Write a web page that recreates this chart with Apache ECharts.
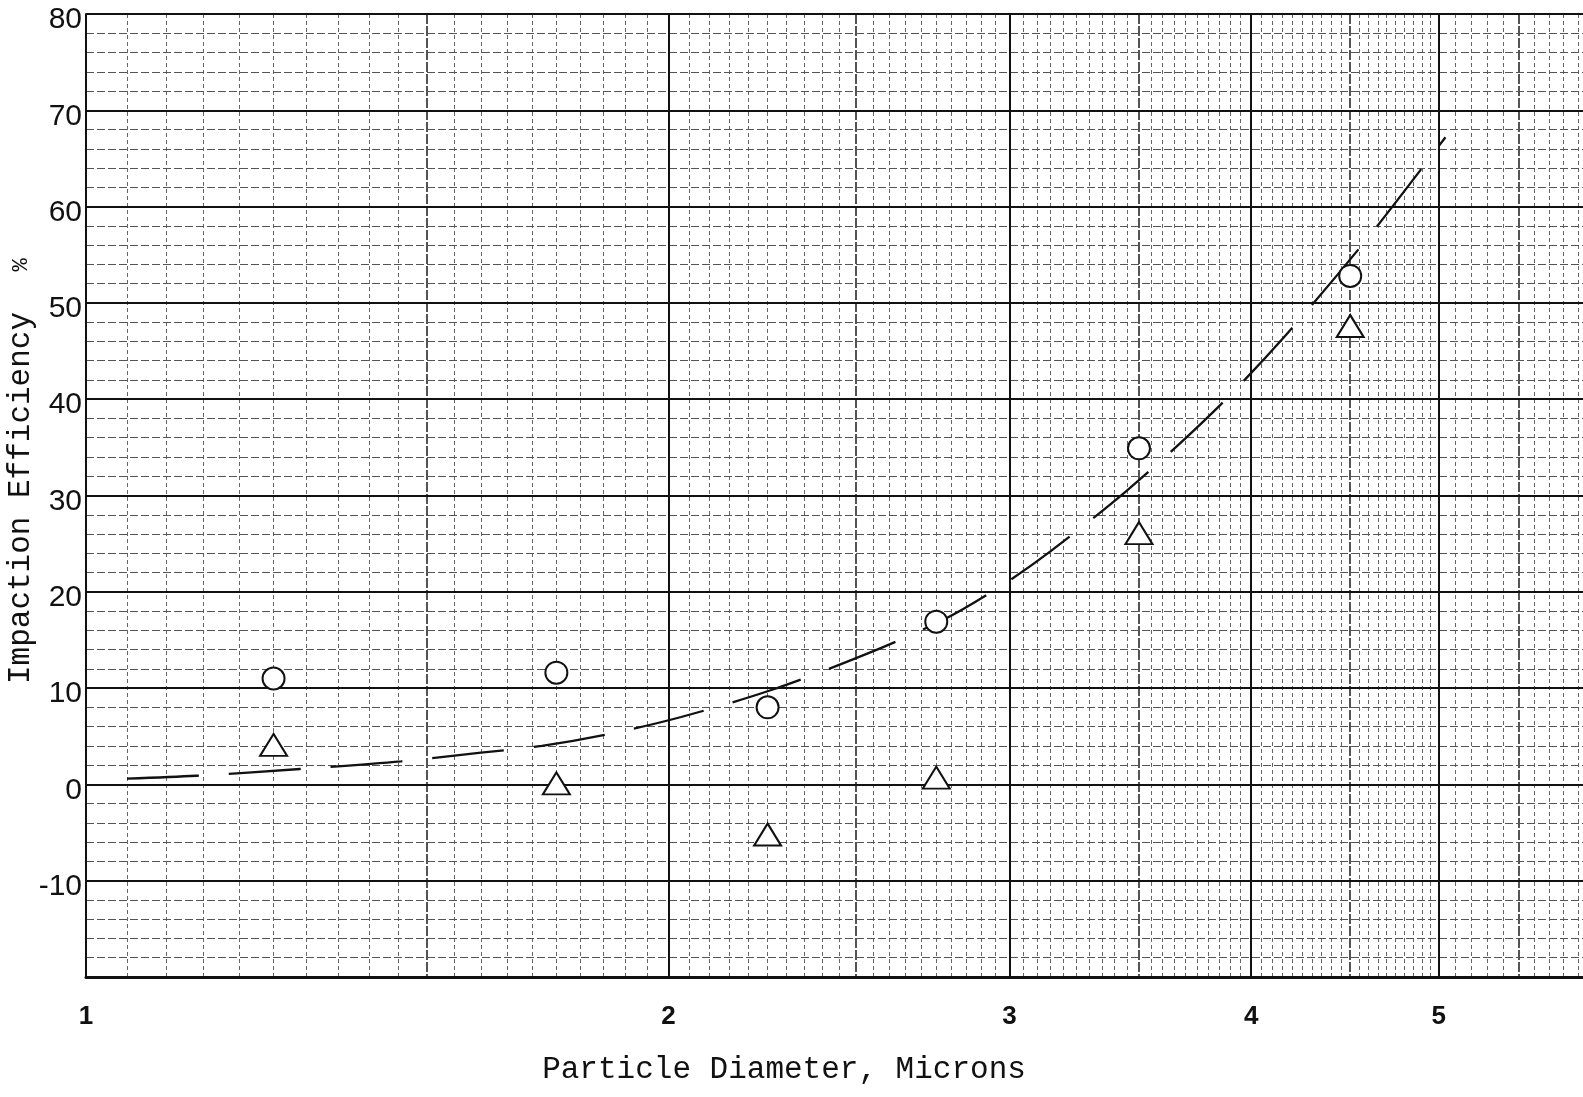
<!DOCTYPE html>
<html>
<head>
<meta charset="utf-8">
<title>Impaction Efficiency vs Particle Diameter</title>
<script src="https://cdn.jsdelivr.net/npm/echarts@6/dist/echarts.min.js"></script>
<style>
  html, body { margin: 0; padding: 0; background: #ffffff; }
  #chart { width: 1583px; height: 1097px; }
</style>
</head>
<body>
<div id="chart"></div>
<script>
// Measured points: particle diameter (microns) and impaction efficiency (%)
const diameters = [1.25, 1.75, 2.25, 2.75, 3.5, 4.5];
const circleEff = [11.0, 11.6, 8.0, 16.9, 34.9, 52.8];
const triangleEff = [4.1, 0.1, -5.2, 0.7, 26.1, 47.6];

// Hand-drawn fitted curve (dashed)
const curveDiam = [1.05, 1.14, 1.29, 1.455, 1.6, 1.72, 1.86, 2.03, 2.26, 2.535, 2.78, 2.97, 3.15, 3.45, 3.82, 4.17, 4.61, 5.04];
const curveEff  = [0.6, 0.9, 1.6, 2.4, 3.3, 4.0, 5.2, 7.0, 9.8, 13.6, 17.2, 20.6, 24.2, 30.5, 38.6, 46.7, 57.1, 67.2];

// Tick labels
const xTickLabels = [1, 2, 3, 4, 5];
const yTickLabels = [-10, 0, 10, 20, 30, 40, 50, 60, 70, 80];

// Semi-log graph paper rulings
const xMajorLines = [2, 3, 4, 5];
const xHalfLines = [1.5, 2.5, 3.5, 4.5, 5.5];
const xFineLines = [];
for (let i = 21; i < 100; i++) {          // 1.05 .. 4.95 every 0.05
  const v = i * 0.05;
  if (i % 10 !== 0) xFineLines.push(Math.round(v * 100) / 100);
}
for (let i = 51; i < 60; i++) {           // 5.1 .. 5.9 every 0.1
  if (i !== 55) xFineLines.push(Math.round(i * 10) / 100);
}

const ink = '#111111';
const monoFont = '"Liberation Mono", "DejaVu Sans Mono", monospace';
const sansFont = '"Liberation Sans", Arial, sans-serif';

function zip(a, b) { return a.map((v, i) => [v, b[i]]); }

function rulingAxis(values, lineStyle, z) {
  return {
    type: 'log', logBase: 10, min: 1, max: 6, gridIndex: 0, z: z,
    axisLine: { show: false },
    axisTick: { show: false, customValues: values },
    axisLabel: { show: false },
    splitLine: { show: true, lineStyle: lineStyle }
  };
}

const chart = echarts.init(document.getElementById('chart'), null, { renderer: 'canvas' });

chart.setOption({
  backgroundColor: '#ffffff',
  animation: false,
  grid: { left: 86, top: 14, right: -9, bottom: 120, outerBoundsMode: 'none' },
  xAxis: [
    {
      type: 'log', logBase: 10, min: 1, max: 6, z: 3,
      axisLine: { show: true, onZero: false, lineStyle: { color: ink, width: 3 } },
      axisTick: { show: false, customValues: xMajorLines },
      axisLabel: {
        customValues: xTickLabels, margin: 27,
        color: ink, fontFamily: sansFont, fontSize: 26, fontWeight: 'bold',
        formatter: v => String(Math.round(v))
      },
      splitLine: { show: true, lineStyle: { color: ink, width: 2 } }
    },
    rulingAxis(xHalfLines, { color: '#2a2a2a', width: 1.6, type: [10, 2] }, 2),
    rulingAxis(xFineLines, { color: '#666666', width: 1, type: [4, 3] }, 1)
  ],
  yAxis: [
    {
      type: 'value', min: -20, max: 80, interval: 10, z: 3,
      axisLine: { show: true, onZero: false, lineStyle: { color: ink, width: 2 } },
      axisTick: { show: false },
      axisLabel: {
        customValues: yTickLabels, margin: 4,
        color: ink, fontFamily: sansFont, fontSize: 30,
        verticalAlign: 'top', lineHeight: 12
      },
      splitLine: { show: true, lineStyle: { color: ink, width: 2 } },
      minorTick: { show: false, splitNumber: 5 },
      minorSplitLine: { show: true, lineStyle: { color: '#555555', width: 1, type: [8, 3] } }
    }
  ],
  series: [
    {
      name: 'fit', type: 'line', xAxisIndex: 0, yAxisIndex: 0, z: 5,
      data: zip(curveDiam, curveEff),
      smooth: 0.3,
      showSymbol: false, silent: true,
      lineStyle: { color: ink, width: 2.3, type: [72, 30] }
    },
    {
      name: 'circles', type: 'scatter', xAxisIndex: 0, yAxisIndex: 0, z: 6,
      data: zip(diameters, circleEff),
      symbol: 'emptyCircle', symbolSize: 22,
      itemStyle: { color: ink, borderColor: ink, borderWidth: 2.2, opacity: 1 }
    },
    {
      name: 'triangles', type: 'scatter', xAxisIndex: 0, yAxisIndex: 0, z: 6,
      data: zip(diameters, triangleEff),
      symbol: 'emptyTriangle', symbolSize: [27, 22],
      itemStyle: { color: ink, borderColor: ink, borderWidth: 2.2, opacity: 1 }
    }
  ],
  graphic: [
    {
      type: 'text', x: 784, y: 1070, z: 10,
      style: { text: 'Particle Diameter, Microns', fill: ink, font: '31px ' + monoFont, align: 'center', verticalAlign: 'middle' }
    },
    {
      type: 'text', x: 21, y: 498, rotation: Math.PI / 2, z: 10,
      style: { text: 'Impaction Efficiency', fill: ink, font: '31px ' + monoFont, align: 'center', verticalAlign: 'middle' }
    },
    {
      type: 'text', x: 21, y: 265, rotation: Math.PI / 2, z: 10,
      style: { text: '%', fill: ink, font: '22px ' + monoFont, align: 'center', verticalAlign: 'middle' }
    }
  ]
});
</script>
</body>
</html>
